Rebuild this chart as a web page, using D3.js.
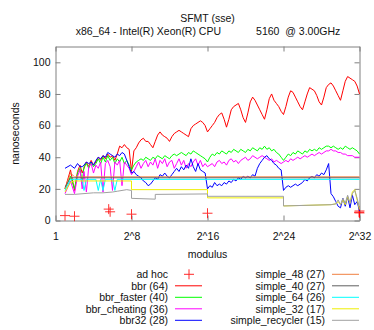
<!DOCTYPE html>
<html>
<head>
<meta charset="utf-8">
<script src="https://cdn.jsdelivr.net/npm/d3@7"></script>
<style>
  body { margin: 0; background: #fff; }
  text { font-family: "Liberation Sans", Arial, sans-serif; font-size: 10.5px; fill: #111; }
</style>
</head>
<body>
<div id="main-container"></div>
<script>
// log2(modulus) grid shared by the bbr family
const modExp = [1, 1.58, 2, 2.32, 2.58, 2.81, 3, 3.25, 3.5, 3.75, 4,
    4.25, 4.5, 4.75, 5, 5.25, 5.5, 5.75, 6, 6.25, 6.5, 6.75, 7, 7.25, 7.5, 7.75, 8,
    8.25, 8.5, 8.75, 9, 9.25, 9.5, 9.75, 10, 10.25, 10.5, 10.75, 11, 11.25, 11.5, 11.75, 12,
    12.25, 12.5, 12.75, 13, 13.25, 13.5, 13.75, 14, 14.25, 14.5, 14.75, 15, 15.25, 15.5, 15.75, 16,
    16.25, 16.5, 16.75, 17, 17.25, 17.5, 17.75, 18, 18.25, 18.5, 18.75, 19, 19.25, 19.5, 19.75, 20,
    20.25, 20.5, 20.75, 21, 21.25, 21.5, 21.75, 22, 22.25, 22.5, 22.75, 23, 23.25, 23.5, 23.75, 24,
    24.25, 24.5, 24.75, 25, 25.25, 25.5, 25.75, 26, 26.25, 26.5, 26.75, 27, 27.25, 27.5, 27.75, 28,
    28.25, 28.5, 28.75, 29, 29.25, 29.5, 29.75, 30, 30.25, 30.5, 30.75, 31, 31.25, 31.5, 31.75, 32];

const bbr = [20, 32, 19, 31, 35, 30, 33, 37, 34, 38, 35,
    37, 40, 38, 41, 39, 42, 40, 41, 38, 42, 47, 46, 48, 46, 45, 31,
    44, 46, 49, 51, 52, 50, 50, 48, 46, 50, 54, 56, 54, 53, 52, 50,
    53, 55, 56, 57, 56, 55, 54, 53, 58, 60, 61, 62, 63, 62, 60, 56,
    58, 60, 62, 65, 67, 68, 64, 59, 64, 70, 72, 73, 74, 70, 65, 62,
    68, 75, 78, 76, 73, 70, 67, 64, 70, 77, 80, 76, 74, 72, 69, 67,
    72, 78, 82, 81, 78, 75, 72, 70, 75, 80, 84, 83, 82, 79, 75, 73,
    78, 84, 86, 87, 85, 82, 79, 76, 82, 88, 91, 90, 89, 88, 85, 80];

const bbrFaster = [20, 28, 20, 30, 33, 24, 34, 36, 33, 37, 34,
    36, 39, 36, 40, 37, 41, 38, 40, 36, 39, 37, 40, 36, 38, 35, 32,
    35, 37, 38, 39, 38, 40, 39, 38, 40, 39, 41, 40, 39, 41, 40, 39,
    41, 42, 41, 42, 43, 42, 41, 43, 42, 44, 43, 42, 41, 40, 39, 37,
    40, 42, 41, 43, 42, 44, 43, 42, 44, 43, 45, 44, 43, 45, 44, 43,
    45, 44, 46, 45, 44, 46, 45, 47, 45, 46, 44, 45, 43, 42, 40, 38,
    40, 42, 41, 43, 42, 44, 43, 42, 44, 43, 45, 44, 45, 44, 46, 45,
    46, 47, 47, 46, 47, 46, 45, 46, 45, 47, 46, 45, 46, 45, 44, 42];

const bbrCheating = [17, 25, 17, 28, 32, 20, 31, 18, 34, 36, 30,
    35, 33, 37, 18, 36, 38, 34, 19, 37, 35, 38, 22, 37, 35, 33, 29,
    31, 34, 37, 33, 36, 38, 34, 37, 35, 39, 33, 38, 36, 39, 34, 37,
    38, 33, 36, 39, 35, 38, 33, 36, 34, 37, 39, 35, 38, 34, 36, 34,
    35, 36, 34, 37, 38, 36, 37, 35, 38, 39, 37, 38, 36, 38, 39, 40,
    38, 39, 41, 40, 39, 40, 41, 40, 39, 38, 39, 37, 38, 37, 36, 37,
    38, 37, 39, 38, 39, 40, 39, 40, 41, 40, 41, 42, 41, 42, 43, 42,
    43, 44, 44, 45, 44, 44, 43, 43, 42, 42, 41, 41, 41, 40, 40, 40];

const bbr32 = [33, 35, 33, 36, 34, 34, 35, 37, 36, 37, 35,
    38, 40, 39, 41, 40, 43, 42, 41, 40, 42, 41, 43, 42, 38, 34, 30,
    31, 29, 28, 27, 25, 24, 22, 23, 25, 27, 26, 29, 28, 30, 28, 27,
    29, 31, 33, 31, 34, 32, 35, 33, 39, 34, 31, 36, 32, 31, 30, 20,
    22, 21, 24, 22, 23, 22, 24, 23, 25, 24, 26, 25, 27, 26, 28, 27,
    28, 27, 29, 28, 33, 36, 38, 40, 41, 39, 38, 36, 35, 33, 32, 19,
    21, 22, 21, 22, 23, 22, 23, 24, 26, 25, 27, 28, 27, 29, 28, 30,
    29, 32, 36, 17, 15, 12, 9, 8, 14, 9, 15, 8, 16, 10, 12, 6];

// simple_* series as [log2(modulus), ns]
const simple48 = [[1, 20], [1.58, 30], [2, 27.6], [32, 27.6]];
const simple40 = [[1, 21], [1.58, 27], [2, 27], [32, 27]];
const simple64 = [[1, 19], [1.58, 26], [2, 26], [2.81, 26], [3, 19], [3.25, 26], [4.25, 26], [4.5, 19],
    [4.75, 26], [5, 19], [5.25, 26], [6, 26], [6.25, 19], [6.5, 26], [32, 26]];
const simple32 = [[1, 18], [1.58, 24], [2, 25], [8, 25], [8, 19.5], [16, 19.5], [16, 14.3], [24, 14.3],
    [24, 9.2], [29, 10], [29.5, 10.5], [29.75, 12], [30, 10], [30.25, 13], [30.5, 10], [30.75, 15],
    [31, 11], [31.25, 18], [31.5, 19.5], [31.75, 13], [32, 7]];
const simpleRecycler = [[1, 16.5], [2, 16.5], [3, 17], [4, 17.5], [5, 17.5], [6, 18], [6.5, 18.5],
    [7, 19], [7.5, 19.5], [8, 19], [8, 14], [10.5, 13.5], [10.5, 16.5], [16, 16.8], [16, 15.3],
    [24, 15.3], [24, 9.2], [29, 10], [29.5, 10.5], [29.75, 13], [30, 10], [30.25, 14], [30.5, 11],
    [30.75, 16], [31, 11], [31.25, 17], [31.5, 19], [31.75, 14], [32, 8]];

const adHoc = [[1, 3.1], [2, 2.7], [5.6, 7.2], [5.75, 5.5], [8, 4], [16, 4.6],
    [31.95, 5.2], [32, 6], [32, 4.8]];

const xTicks = [0, 8, 16, 24, 32];
const xTickLabels = ['1', '2^8', '2^16', '2^24', '2^32'];
const yTicks = [0, 20, 40, 60, 80, 100];

const SVG_WIDTH = 374;
const SVG_HEIGHT = 330;
const PLOT = { left: 55.5, right: 359.5, top: 46.5, bottom: 220.5 };
const FRAME = '#808080';

const SVG = d3.select('#main-container').append('svg')
    .attr('width', SVG_WIDTH)
    .attr('height', SVG_HEIGHT);

const x = d3.scaleLinear().domain([0, 32]).range([PLOT.left, PLOT.right]);
const y = d3.scaleLinear().domain([0, 110]).range([PLOT.bottom, PLOT.top]);

// titles
SVG.append('text')
    .attr('x', 207.5).attr('y', 22)
    .attr('text-anchor', 'middle')
    .text('SFMT (sse)');
SVG.append('text')
    .attr('x', 208).attr('y', 34.5)
    .attr('text-anchor', 'middle')
    .style('white-space', 'pre')
    .text('x86_64 - Intel(R) Xeon(R) CPU            5160  @ 3.00GHz');

// axes, ticks inward like gnuplot
const styleAxis = g => {
    g.selectAll('path, line').attr('stroke', FRAME);
    g.selectAll('text').attr('fill', '#111').style('font-size', '10.5px')
        .attr('font-family', null);
};
SVG.append('g')
    .attr('transform', `translate(0, ${PLOT.bottom})`)
    .call(d3.axisBottom(x).tickValues(xTicks).tickFormat((d, i) => xTickLabels[i])
        .tickSizeInner(-5).tickSizeOuter(0).tickPadding(12))
    .call(styleAxis);
SVG.append('g')
    .attr('transform', `translate(0, ${PLOT.top})`)
    .call(d3.axisTop(x).tickValues(xTicks).tickFormat('')
        .tickSizeInner(-5).tickSizeOuter(0))
    .call(styleAxis);
SVG.append('g')
    .attr('transform', `translate(${PLOT.left}, 0)`)
    .call(d3.axisLeft(y).tickValues(yTicks)
        .tickSizeInner(-5).tickSizeOuter(0).tickPadding(5))
    .call(styleAxis);
SVG.append('g')
    .attr('transform', `translate(${PLOT.right}, 0)`)
    .call(d3.axisRight(y).tickValues(yTicks).tickFormat('')
        .tickSizeInner(-5).tickSizeOuter(0))
    .call(styleAxis);

// axis titles
SVG.append('text')
    .attr('transform', `translate(19, ${(PLOT.top + PLOT.bottom) / 2}) rotate(-90)`)
    .attr('text-anchor', 'middle')
    .text('nanoseconds');
SVG.append('text')
    .attr('x', (PLOT.left + PLOT.right) / 2).attr('y', 257.5)
    .attr('text-anchor', 'middle')
    .text('modulus');

// plotted series
const plusPath = 'M-5,0H5M0,-5V5';
const line = d3.line().x(d => x(d[0])).y(d => y(d[1]));
const zipGrid = vals => modExp.map((e, i) => [e, vals[i]]);

const lineSeries = [
    { name: 'bbr (64)', color: '#ff0000', data: zipGrid(bbr) },
    { name: 'bbr_faster (40)', color: '#00ff00', data: zipGrid(bbrFaster) },
    { name: 'bbr_cheating (36)', color: '#ff00ff', data: zipGrid(bbrCheating) },
    { name: 'bbr32 (28)', color: '#0000ff', data: zipGrid(bbr32) },
    { name: 'simple_48 (27)', color: '#f08040', data: simple48 },
    { name: 'simple_40 (27)', color: '#606060', data: simple40 },
    { name: 'simple_64 (26)', color: '#00ffff', data: simple64 },
    { name: 'simple_32 (17)', color: '#eeee00', data: simple32 },
    { name: 'simple_recycler (15)', color: '#a0a0a0', data: simpleRecycler }
];

const PLOT_G = SVG.append('g');
PLOT_G.selectAll('path.adhoc')
    .data(adHoc)
    .enter()
    .append('path')
    .attr('class', 'adhoc')
    .attr('d', plusPath)
    .attr('transform', d => `translate(${x(d[0])}, ${y(d[1])})`)
    .attr('stroke', '#ff0000')
    .attr('stroke-width', 1)
    .attr('opacity', 0.8);

PLOT_G.selectAll('path.series')
    .data(lineSeries)
    .enter()
    .append('path')
    .attr('class', 'series')
    .attr('d', d => line(d.data))
    .attr('fill', 'none')
    .attr('stroke', d => d.color)
    .attr('stroke-width', 1)
    .attr('stroke-linejoin', 'round');

// legend, two columns
const LEGEND = SVG.append('g');
const legendItems = [{ name: 'ad hoc', color: '#ff0000', plus: true }].concat(lineSeries);
const ROW_Y = [274.3, 285.8, 297.3, 308.8, 320.3];
legendItems.forEach((d, i) => {
    const col = i < 5 ? 0 : 1;
    const row = i % 5;
    const textEnd = col === 0 ? 168 : 325;
    const ly = ROW_Y[row];
    LEGEND.append('text')
        .attr('x', textEnd).attr('y', ly + 3.8)
        .attr('text-anchor', 'end')
        .text(d.name);
    if (d.plus) {
        LEGEND.append('path')
            .attr('d', plusPath)
            .attr('transform', `translate(${textEnd + 21}, ${ly})`)
            .attr('stroke', d.color)
            .attr('opacity', 0.85);
    } else {
        LEGEND.append('line')
            .attr('x1', textEnd + 7).attr('x2', textEnd + 34)
            .attr('y1', ly).attr('y2', ly)
            .attr('stroke', d.color)
            .attr('stroke-width', 1);
    }
});
</script>
</body>
</html>
